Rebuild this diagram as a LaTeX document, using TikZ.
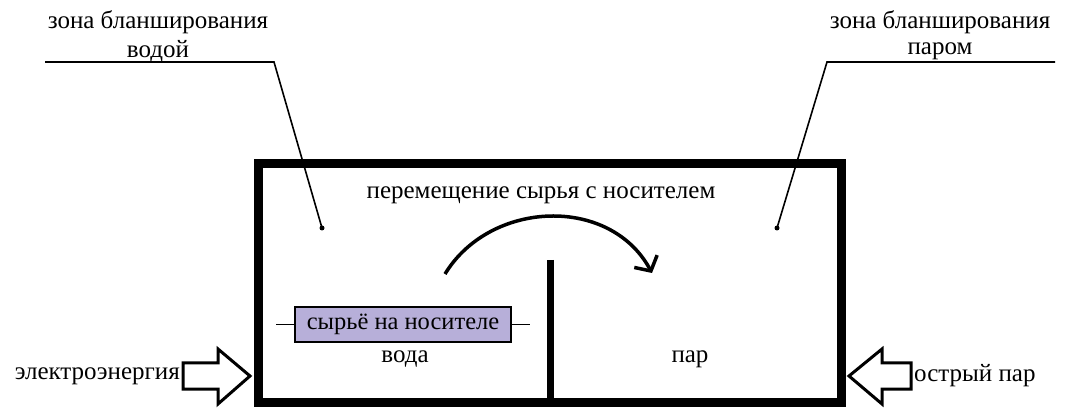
\documentclass[tikz,border=0pt]{standalone}
\usepackage{fontspec}
\setmainfont{Liberation Serif}
\usetikzlibrary{arrows.meta}
\definecolor{rawfill}{HTML}{B7AFD9}
\tikzset{
  lbl/.style={font=\fontsize{25}{27}\selectfont, inner sep=0pt},
  wall/.style={line width=9pt},
  leader/.style={line width=1.6pt},
  blockarrow/.style={line width=3pt, fill=white, line join=miter},
  dotmark/.style={circle, fill=black, inner sep=0pt, minimum size=5pt}
}
\begin{document}
\begin{tikzpicture}[x=1pt,y=-1pt]
\useasboundingbox (0,0) rectangle (1076,411);
% main vessel
\draw[wall, line join=miter] (258.5,163.5) rectangle (841.5,402.5);
\coordinate (divtop) at (550,260);
\coordinate (divbot) at (550,402);
\draw[line width=7pt] (divtop) -- (divbot);
% raw material on carrier
\node[draw, line width=1.5pt, fill=rawfill, minimum width=216pt, minimum height=35pt, inner sep=0pt, font=\fontsize{24.5}{27}\selectfont] (raw) at (403,324.5) {сырьё на носителе};
\coordinate (stubL) at (276,324.5);
\coordinate (stubR) at (530,324.5);
\draw[line width=1.6pt] (stubL) -- (raw.west);
\draw[line width=1.6pt] (raw.east) -- (stubR);
\node[lbl] (water) at (405,359) {вода};
\node[lbl] (steam) at (690,359) {пар};
% movement arc
\node[lbl] (move) at (541,195) {перемещение сырья с носителем};
\coordinate (arcA) at (445,274);
\coordinate (arcB) at (652,273);
\draw[line width=3.5pt, -{Straight Barb[length=11pt, width=26pt, line width=3.5pt]}] (arcA) .. controls (490,200) and (610,195) .. (arcB);
% left leader
\node[lbl] (zw1) at (158,22) {зона бланширования};
\node[lbl] (zw2) at (158,51) {водой};
\node[dotmark] (dotL) at (322,228) {};
\coordinate (lA) at (45,62);
\coordinate (lB) at (274,62);
\draw[leader] (lA) -- (lB) -- (dotL.center);
% right leader
\node[lbl] (zs1) at (940,22) {зона бланширования};
\node[lbl] (zs2) at (940,51) {паром};
\node[dotmark] (dotR) at (777,228) {};
\coordinate (rA) at (1055,62);
\coordinate (rB) at (827,62);
\draw[leader] (rA) -- (rB) -- (dotR.center);
% energy arrows
\node[lbl, anchor=east] (elec) at (180,376) {электроэнергия};
\draw[blockarrow] (183,363) -- (218,363) -- (218,349) -- (250,376) -- (218,404) -- (218,389) -- (183,389) -- cycle;
\node[lbl, anchor=west] (live) at (914,376) {острый пар};
\draw[blockarrow] (911,363) -- (882,363) -- (882,349) -- (849,376) -- (882,404) -- (882,389) -- (911,389) -- cycle;
\end{tikzpicture}
\end{document}
